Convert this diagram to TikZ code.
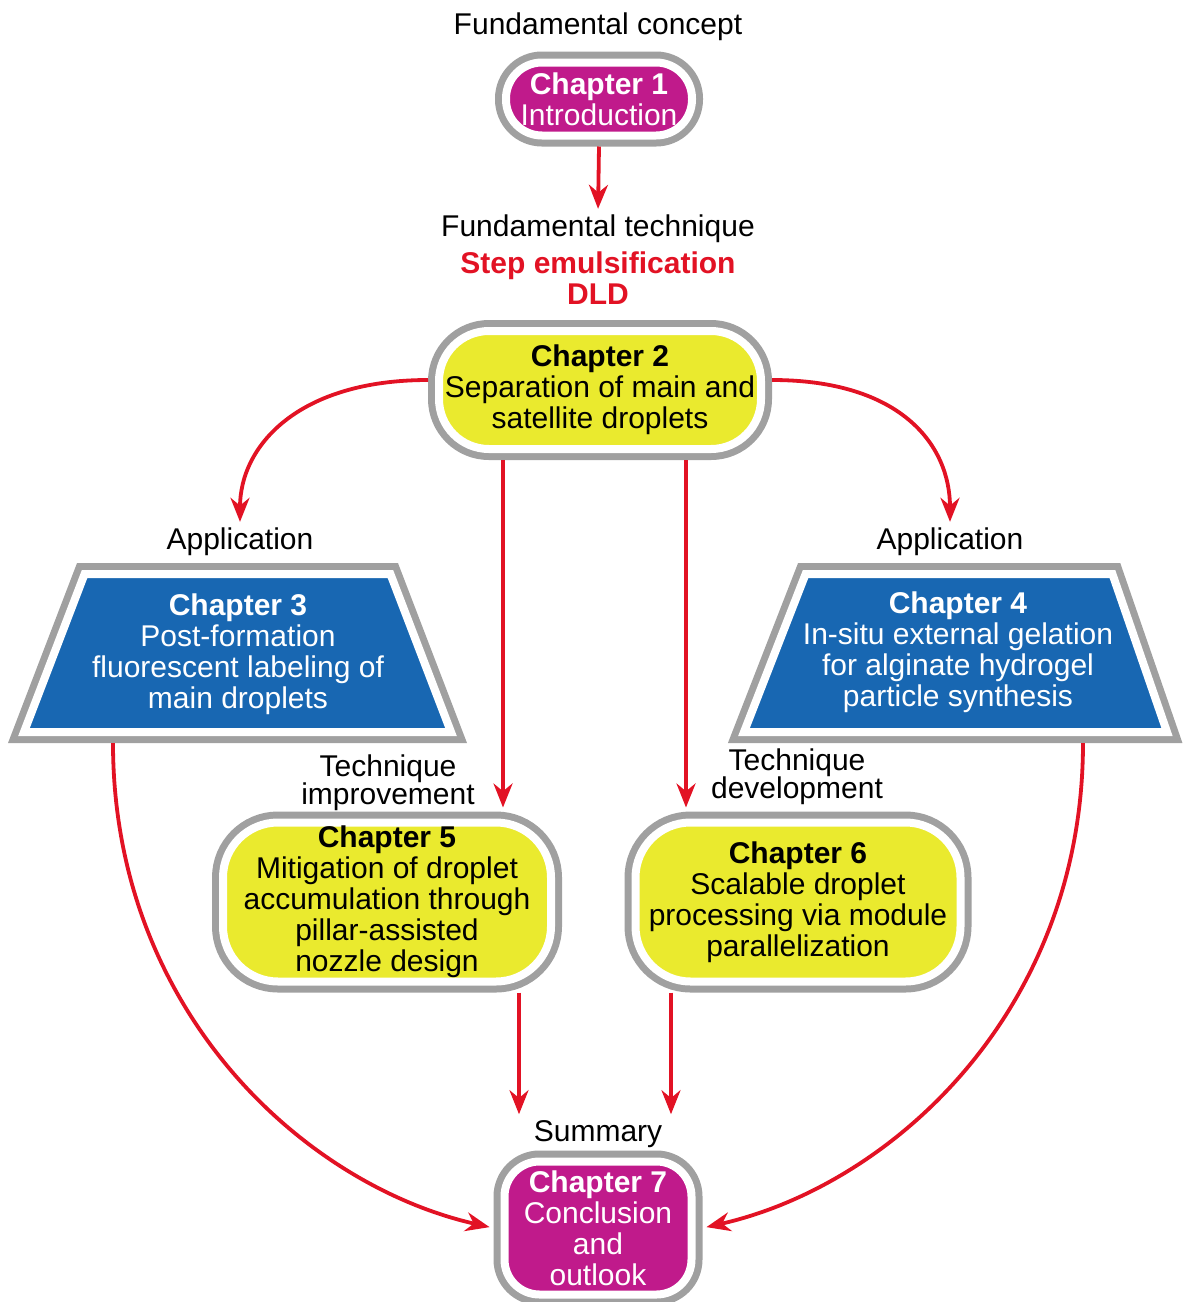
\documentclass[tikz,border=0pt]{standalone}
\usepackage{fontspec}
\setmainfont{Liberation Sans}
\usetikzlibrary{arrows.meta}

\definecolor{chapmag}{RGB}{192,26,139}
\definecolor{chapblue}{RGB}{24,103,178}
\definecolor{chapyel}{RGB}{234,234,46}
\definecolor{rimgray}{RGB}{160,160,160}
\definecolor{arrowred}{RGB}{226,18,36}

\tikzset{
	every node/.style={font=\fontsize{30}{31}\selectfont, inner sep=2pt},
	rim/.style={preaction={draw=rimgray, line width=22pt}, draw=white, line width=8pt},
	chapbox/.style={rim, align=center, outer sep=11pt},
	redbold/.style={text=arrowred, align=center, font=\fontsize{30}{31}\selectfont\bfseries},
	tightlab/.style={align=center, font=\fontsize{30}{28}\selectfont},
	flow/.style={draw=arrowred, line width=3.8pt, -{Stealth[length=24pt,width=19pt]}, shorten >=4pt},
}

\begin{document}
\begin{tikzpicture}[x=1pt, y=-1pt]
				\useasboundingbox (0,0) rectangle (1184,1302);
				
				% Chapter boxes
				\node[chapbox, fill=chapmag, text=white, minimum width=186pt, minimum height=73pt, rounded corners=36pt] (ch1) at (599,99) {\textbf{Chapter 1}\\Introduction};
				\node[chapbox, fill=chapyel, minimum width=322pt, minimum height=118pt, rounded corners=50pt] (ch2) at (600,390) {\textbf{Chapter 2}\\Separation of main and\\satellite droplets};
				
				\path[rim, fill=chapblue] (84.6,574) -- (390.4,574) -- (451,732) -- (24,732) -- cycle; % left trapezium
				\node[text=white, align=center] (ch3) at (238,654) {\textbf{Chapter 3}\\Post-formation\\fluorescent labeling of\\main droplets};
				\coordinate (b3) at (113,743);
				
				\path[rim, fill=chapblue] (805.6,574) -- (1112.4,574) -- (1167,732) -- (744,732) -- cycle; % right trapezium
				\node[text=white, align=center] (ch4) at (958,652) {\textbf{Chapter 4}\\In-situ external gelation\\for alginate hydrogel\\particle synthesis};
				\coordinate (b4) at (1083,743);
				
				\node[chapbox, fill=chapyel, minimum width=328pt, minimum height=159pt, rounded corners=55pt] (ch5) at (387,902) {\textbf{Chapter 5}\\Mitigation of droplet\\accumulation through\\pillar-assisted\\nozzle design};
				\node[chapbox, fill=chapyel, minimum width=325pt, minimum height=159pt, rounded corners=55pt] (ch6) at (798,902) {\textbf{Chapter 6}\\Scalable droplet\\processing via module\\parallelization};
				\node[chapbox, fill=chapmag, text=white, minimum width=187pt, minimum height=133pt, rounded corners=35pt] (ch7) at (598,1228) {\textbf{Chapter 7}\\Conclusion\\and\\outlook};
				
				% Labels
				\node (concept) at (598,27) {Fundamental concept};
				\node (tech) at (598,229) {Fundamental technique};
				\node[redbold] (method) at (598,278) {Step emulsification\\DLD};
				\node (app3) at (240,542) {Application};
				\node (app4) at (950,542) {Application};
				\node[tightlab] (improve) at (388,783) {Technique\\improvement};
				\node[tightlab] (develop) at (797,777) {Technique\\development};
				\node (sum) at (598,1134) {Summary};
				
				% Arrows
				\draw[flow] (ch1.south) -- (tech.north);
				\draw[flow] ([yshift=10]ch2.west) .. controls +(-130,0) and +(0,-80) .. (app3.north);
				\draw[flow] ([yshift=10]ch2.east) .. controls +(130,0) and +(0,-80) .. (app4.north);
				\draw[flow] ([xshift=-97]ch2.south) -- ([xshift=116]ch5.north);
				\draw[flow] ([xshift=86]ch2.south) -- ([xshift=-112]ch6.north);
				\draw[flow] ([xshift=132]ch5.south) -- ([xshift=-79]sum.north);
				\draw[flow] ([xshift=-127]ch6.south) -- ([xshift=73]sum.north);
				\draw[flow] (b3) .. controls +(0,267) and +(-190,-43) .. (ch7.west);
				\draw[flow] (b4) .. controls +(0,267) and +(190,-43) .. (ch7.east);
			\end{tikzpicture}
\end{document}
